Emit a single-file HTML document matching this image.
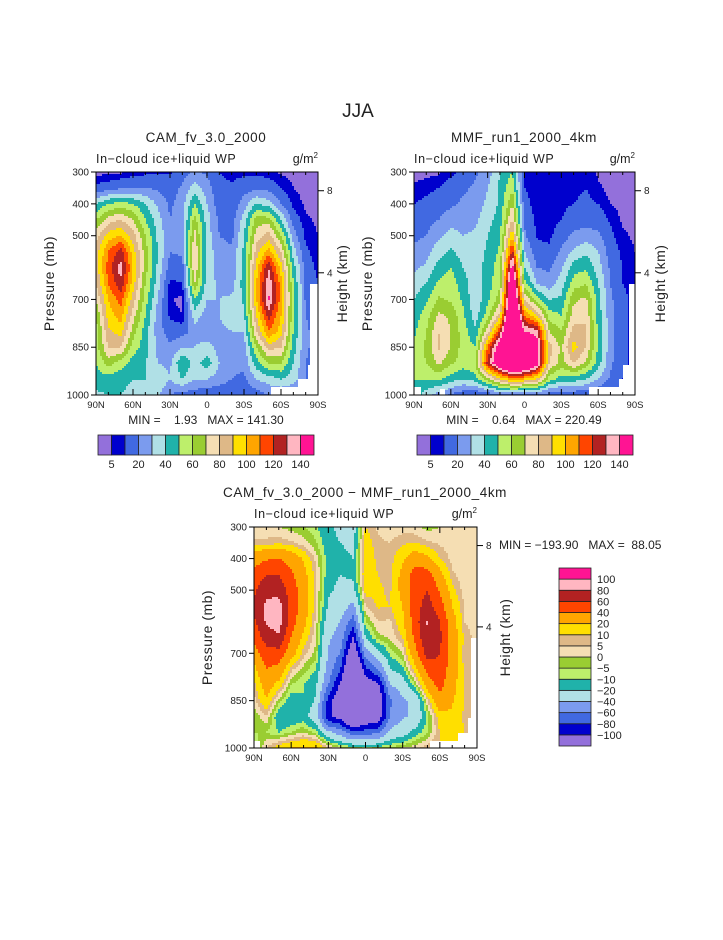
<!DOCTYPE html>
<html><head><meta charset="utf-8">
<style>
html,body{margin:0;padding:0;background:#fff;}
svg text{font-family:"Liberation Sans",sans-serif;fill:#222;}
.pre{white-space:pre;}
</style></head>
<body>
<svg id="root" width="723" height="935" viewBox="0 0 723 935" xmlns="http://www.w3.org/2000/svg">
<rect x="0" y="0" width="723" height="935" fill="#fff"/>
<text x="358" y="117" font-size="19" text-anchor="middle" style="font-weight:300">JJA</text>
<g id="p1"></g>
<g id="p2"></g>
<g id="p3"></g>
</svg>
<script>
// ---- data ----
const lats = [90,80,70,60,50,40,30,20,10,0,-10,-20,-30,-40,-50,-60,-70,-80,-90];
const pLevels = [300,350,400,450,500,550,600,650,700,750,800,850,900,950,1000];
const camGrid = [
[3,3,4,6,8,9,9,15,22,18,10,8,8,8,6,4,3,3,3],
[12,15,18,20,20,18,14,22,35,25,12,11,15,18,16,10,5,3,3],
[40,50,55,50,40,28,18,25,50,30,14,13,25,40,35,20,8,4,3],
[60,75,80,70,50,35,20,25,65,35,18,15,35,65,65,40,15,6,4],
[75,95,100,85,60,38,22,25,75,35,20,17,40,75,85,60,25,8,5],
[85,110,125,95,65,40,20,22,80,35,25,22,42,85,105,80,35,12,6],
[85,115,135,100,65,38,15,15,80,35,25,22,45,95,130,95,45,15,8],
[80,110,128,95,60,35,8,10,70,35,28,25,45,100,138,105,50,18,10],
[70,100,115,85,55,30,6,3,50,30,30,32,42,100,142,105,52,18,12],
[60,95,105,75,50,25,8,5,35,25,30,35,38,90,125,100,52,20,14],
[55,88,95,65,45,25,15,15,25,22,28,30,30,80,110,95,50,22,15],
[55,80,80,55,45,28,22,30,30,35,25,22,25,60,85,80,45,22,15],
[50,65,55,45,40,30,28,50,35,45,30,22,22,45,60,60,40,20,15],
[45,45,42,40,40,38,30,40,30,30,25,20,18,30,35,40,35,20,15],
[38,40,40,38,35,32,20,15,15,12,12,12,12,15,20,20,18,15,15]];
const mmfGrid = [
[3,3,4,8,12,18,25,40,50,8,6,6,6,7,8,4,3,3,3],
[6,8,10,14,18,22,30,42,58,10,6,6,6,8,10,6,3,3,3],
[10,12,15,18,22,25,32,42,70,14,6,6,8,10,12,10,5,3,3],
[14,16,20,26,25,28,36,45,82,18,8,7,10,15,15,15,9,4,3],
[18,20,28,34,30,32,40,48,100,22,9,8,15,22,25,22,12,6,4],
[22,26,36,42,35,34,42,52,125,30,14,12,22,32,38,30,15,8,5],
[28,32,44,50,40,35,44,56,150,40,20,18,28,45,48,35,18,10,6],
[35,40,52,56,44,34,45,58,170,55,30,24,35,55,60,40,20,10,7],
[40,48,62,58,48,32,48,65,180,80,55,40,42,68,72,45,22,12,8],
[45,55,72,68,52,35,55,85,190,110,90,55,50,75,78,45,24,12,8],
[48,60,80,70,55,42,75,120,200,140,135,70,60,85,82,48,24,12,8],
[52,62,82,70,55,50,110,155,210,170,150,85,68,95,80,48,24,12,8],
[55,60,72,62,55,60,125,160,195,175,150,80,65,80,68,45,22,12,8],
[50,50,52,45,40,45,65,90,105,100,90,55,45,45,40,30,18,10,7],
[48,35,25,18,12,10,12,15,18,18,16,14,12,12,12,10,8,8,8]];
const absLevels = [5,10,20,30,40,50,60,70,80,90,100,110,120,130,140];
const absLabels = [5,20,40,60,80,100,120,140];
const diffLevels = [-100,-80,-60,-40,-20,-10,-5,0,5,10,20,40,60,80,100];
const diffLabels = ["\u2212100","\u221280","\u221260","\u221240","\u221220","\u221210","\u22125","0","5","10","20","40","60","80","100"];
const xTickVals = [90,60,30,0,-30,-60,-90];
const xTickLabels = ["90N","60N","30N","0","30S","60S","90S"];
const pTickVals = [300,400,500,700,850,1000];
const hTickVals = [8,4];
const hTickFrac = [0.084,0.452];
const palette = ["#9370db","#0000cd","#4169e1","#7b9bee","#b0e0e6","#20b2aa","#bdef6b","#9acd32","#f5deb3","#deb887","#ffdf00","#ffa500","#ff4500","#b22222","#ffb6c1","#ff1493"];

const NS="http://www.w3.org/2000/svg";
function mk(tag,attrs,parent){const e=document.createElementNS(NS,tag);for(const k in attrs)e.setAttribute(k,attrs[k]);parent.appendChild(e);return e;}
const diffGrid = camGrid.map((row,i)=>row.map((v,j)=>v-mmfGrid[i][j]));

function sample(grid,lat,p){
  let fx=(90-lat)/10, fy=(p-300)/50;
  fx=Math.max(0,Math.min(18,fx)); fy=Math.max(0,Math.min(14,fy));
  const i0=Math.min(17,Math.floor(fx)), j0=Math.min(13,Math.floor(fy));
  const tx=fx-i0, ty=fy-j0;
  const a=grid[j0][i0],b=grid[j0][i0+1],c=grid[j0+1][i0],d=grid[j0+1][i0+1];
  return (a*(1-tx)+b*tx)*(1-ty)+(c*(1-tx)+d*tx)*ty;
}
function cls(v,levels){let k=0;for(const l of levels){if(v>=l)k++;}return k;}

function panel(g,grid,levels,P,opts){
  const cg=mk('g',{},g);
  
  
  const step=2;
  const xs=x=>P.x+(90-x)/180*P.w;
  const ys=p=>P.y+(p-300)/700*P.h;
  function flush(x0,x1,yy,hh,c){
    const r=mk('rect',{x:P.x+x0,y:P.y+yy,width:x1-x0+0.4,height:hh+0.4,fill:palette[c]},cg);
    
    
  }
  for(let yy=0;yy<P.h;yy+=step){
    const p=300+(yy+step/2)/P.h*700;
    let runStart=0,runC=-1;
    const hh=Math.min(step,P.h-yy);
    for(let xx=0;xx<P.w;xx+=step){
      const lat=90-(xx+step/2)/P.w*180;
      const c=cls(sample(grid,lat,p),levels);
      if(c!==runC){
        if(runC>=0) flush(runStart,xx,yy,hh,runC);
        runStart=xx;runC=c;
      }
    }
    flush(runStart,P.w,yy,hh,runC);
  }
  for(const m of opts.mask){
    const r=mk('rect',{x:P.x+P.w-m[0],y:P.y+P.h-m[1],width:m[0]-m[2],height:m[1],fill:'#fff'},g);
    
    
  }
  const fr=mk('rect',{x:P.x,y:P.y,width:P.w,height:P.h,fill:'none',stroke:'#000','stroke-width':1},g);
  
  
  for(let lat=90;lat>=-90;lat-=10){
    const major=lat%30===0,x=xs(lat),L=major?6:3;
    mk('line',{x1:x,y1:P.y+P.h,x2:x,y2:P.y+P.h-L,stroke:'#000'},g);
    mk('line',{x1:x,y1:P.y,x2:x,y2:P.y+L,stroke:'#000'},g);
  }
  xTickVals.forEach((v,i)=>{
    const t=mk('text',{x:xs(v),y:P.y+P.h+13,'font-size':9.5,'text-anchor':'middle'},g);
    t.textContent=xTickLabels[i];
    
    
  });
  pTickVals.forEach(v=>{
    const y=ys(v);
    mk('line',{x1:P.x-5,y1:y,x2:P.x,y2:y,stroke:'#000'},g);
    const t=mk('text',{x:P.x-7,y:y+3.5,'font-size':10,'text-anchor':'end'},g);
    t.textContent=v;
    
    
  });
  hTickVals.forEach((v,i)=>{
    const y=P.y+hTickFrac[i]*P.h;
    mk('line',{x1:P.x+P.w,y1:y,x2:P.x+P.w+6,y2:y,stroke:'#000'},g);
    const t=mk('text',{x:P.x+P.w+9,y:y+3.5,'font-size':10},g);
    t.textContent=v;
    
    
  });
  const yl=mk('text',{x:0,y:0,'font-size':14,'text-anchor':'middle','letter-spacing':'0.5',transform:`translate(${P.x-42},${P.y+P.h/2}) rotate(-90)`},g);
  yl.textContent='Pressure (mb)';
  
  
  const hl=mk('text',{x:0,y:0,'font-size':14,'text-anchor':'middle','letter-spacing':'0.5',transform:`translate(${P.x+P.w+opts.hOff},${P.y+P.h/2}) rotate(-90)`},g);
  hl.textContent='Height (km)';
  
  
  const st=mk('text',{x:P.x,y:P.y-9,'font-size':12.5,'letter-spacing':'0.6'},g);
  st.textContent='In\u2212cloud ice+liquid WP';
  
  
  const un=mk('text',{x:P.x+P.w,y:P.y-9,'font-size':12.5,'text-anchor':'end'},g);
  un.innerHTML='g/m<tspan dy="-5" font-size="8">2</tspan>';
  
  
  const ti=mk('text',{x:opts.titleX,y:P.y-30,'font-size':13.5,'text-anchor':'middle','letter-spacing':'0.6'},g);
  ti.textContent=opts.title;
  
  
}

function hbar(g,x,y,w,h){
  const bw=w/16;
  palette.forEach((c,i)=>{
    const r=mk('rect',{x:x+i*bw,y:y,width:bw,height:h,fill:c,stroke:'#222','stroke-width':0.8},g);
    
    
  });
  absLabels.forEach((v,k)=>{
    const t=mk('text',{x:x+(2*k+1)*bw,y:y+h+13,'font-size':11,'text-anchor':'middle'},g);
    t.textContent=v;
    
    
  });
}

const g1=document.getElementById('p1'),g2=document.getElementById('p2'),g3=document.getElementById('p3');
const P1={x:96,y:172,w:222,h:223};
panel(g1,camGrid,absLevels,P1,{title:'CAM_fv_3.0_2000',titleX:206,hOff:29,mask:[[8,111,0],[10,30,0],[20,16,0],[47,8,0]]});
const m1=mk('text',{x:206,y:424,'font-size':12,'text-anchor':'middle','class':'pre'},g1);
m1.textContent='MIN =    1.93   MAX = 141.30';


hbar(g1,98,435,216,20);

const P2={x:414,y:172,w:221,h:223};
panel(g2,mmfGrid,absLevels,P2,{title:'MMF_run1_2000_4km',titleX:524,hOff:30,mask:[[6,111,0],[12,30,0],[16,16,0],[46,8,0],[221,8,214],[195,6,190]]});
const m2=mk('text',{x:524,y:424,'font-size':12,'text-anchor':'middle','class':'pre'},g2);
m2.textContent='MIN =    0.64   MAX = 220.49';


hbar(g2,417,435,216,20);

const P3={x:254,y:527,w:223,h:221};
panel(g3,diffGrid,diffLevels,P3,{title:'CAM_fv_3.0_2000 \u2212 MMF_run1_2000_4km',titleX:365,hOff:33,mask:[[6,110,0],[9,30,0],[19,15,0],[47,7,0],[223,7,217]]});
const m3=mk('text',{x:499,y:549,'font-size':12,'class':'pre'},g3);
m3.textContent='MIN = \u2212193.90   MAX =  88.05';


const cbx=559,cby=568,cbw=32,cbh=178,bh=cbh/16;
palette.forEach((c,i)=>{
  const r=mk('rect',{x:cbx,y:cby+cbh-(i+1)*bh,width:cbw,height:bh,fill:c,stroke:'#222','stroke-width':0.8},g3);
  
  
});
diffLabels.forEach((s,k)=>{
  const t=mk('text',{x:597,y:cby+cbh-(k+1)*bh+4,'font-size':11},g3);
  t.textContent=s;
  
  
});
</script>
</body></html>
